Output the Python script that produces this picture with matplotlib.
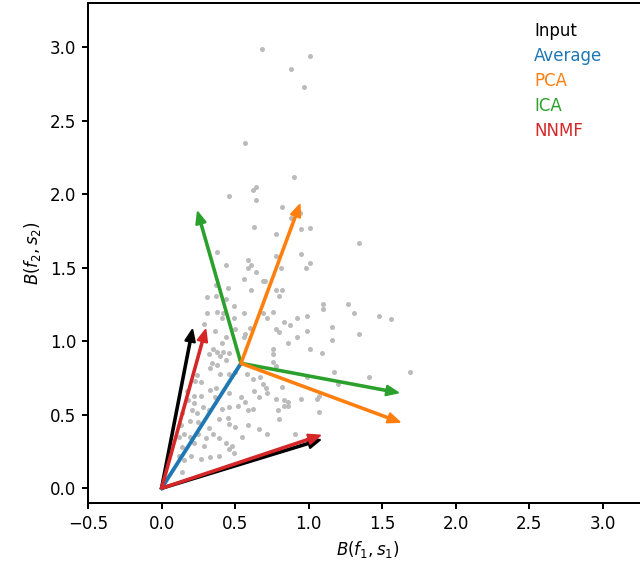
import numpy as np
from matplotlib import pyplot as plt

# scatter cloud (data units)
pts_x = [0.68, 1.01, 0.88, 0.97, 0.57, 0.90, 0.64, 0.62, 0.46, 0.64,
         0.82, 0.94, 0.88, 0.63, 0.78, 0.95, 1.01, 1.34, 0.38, 0.78,
         0.95, 1.01, 0.98, 0.44, 0.59, 0.59, 0.61, 0.64, 0.81, 0.56,
         0.70, 0.69, 0.37, 0.45, 0.61, 0.78, 0.82, 0.31, 0.37, 0.44,
         0.80, 0.49, 1.10, 1.10, 1.27, 1.31, 1.48, 1.56, 0.31, 0.38,
         0.42, 0.41, 0.49, 0.56, 0.69, 0.72, 0.76, 0.92, 0.99, 0.83,
         0.87, 0.29, 0.36, 0.50, 0.60, 0.57, 0.78, 0.80, 0.99, 1.16,
         0.92, 1.34, 1.16, 0.44, 0.56, 0.86, 0.41, 0.35, 1.01, 1.09,
         0.76, 0.76, 0.76, 0.38, 0.32, 0.42, 0.46, 0.40, 0.44, 0.34,
         0.38, 0.33, 0.78, 1.17, 1.41, 1.69, 0.99, 1.20, 0.24, 0.23,
         0.27, 0.40, 0.46, 0.50, 0.58, 0.62, 0.67, 0.69, 0.71, 0.72,
         0.63, 0.66, 0.82, 0.37, 0.33, 0.17, 0.22, 0.27, 0.36, 0.46,
         0.54, 0.57, 0.78, 0.83, 0.86, 0.95, 1.07, 1.06, 1.07, 0.86,
         0.83, 0.79, 0.59, 0.62, 0.52, 0.46, 0.41, 0.32, 0.24, 0.21,
         0.13, 0.19, 0.25, 0.32, 0.39, 0.45, 0.46, 0.50, 0.59, 0.66,
         0.72, 0.80, 0.91, 0.55, 0.39, 0.44, 0.29, 0.22, 0.19, 0.12,
         0.14, 0.20, 0.27, 0.33, 0.39, 0.46, 0.49, 0.48, 0.15, 0.14,
         0.12, 0.15, 0.25, 0.35, 0.30, 0.18, 0.14, 0.22, 0.28]
pts_y = [2.99, 2.94, 2.85, 2.73, 2.35, 2.12, 2.05, 2.03, 1.99, 1.96,
         1.91, 1.87, 1.84, 1.78, 1.73, 1.76, 1.77, 1.67, 1.61, 1.58,
         1.59, 1.53, 1.50, 1.52, 1.55, 1.50, 1.52, 1.47, 1.50, 1.42,
         1.41, 1.41, 1.38, 1.36, 1.35, 1.35, 1.35, 1.30, 1.31, 1.29,
         1.31, 1.24, 1.25, 1.22, 1.25, 1.19, 1.17, 1.15, 1.19, 1.20,
         1.19, 1.16, 1.16, 1.19, 1.19, 1.16, 1.20, 1.16, 1.17, 1.13,
         1.11, 1.12, 1.07, 1.08, 1.09, 1.05, 1.08, 1.06, 1.07, 1.10,
         1.03, 1.05, 1.01, 1.03, 1.03, 0.99, 0.99, 0.95, 0.95, 0.92,
         0.95, 0.91, 0.86, 0.93, 0.91, 0.93, 0.92, 0.90, 0.87, 0.85,
         0.84, 0.82, 0.83, 0.79, 0.76, 0.79, 0.76, 0.71, 0.77, 0.73,
         0.72, 0.78, 0.78, 0.79, 0.78, 0.74, 0.76, 0.71, 0.68, 0.65,
         0.66, 0.62, 0.69, 0.68, 0.67, 0.66, 0.63, 0.63, 0.62, 0.65,
         0.62, 0.59, 0.61, 0.60, 0.59, 0.61, 0.63, 0.61, 0.52, 0.56,
         0.56, 0.53, 0.53, 0.54, 0.56, 0.55, 0.54, 0.53, 0.51, 0.53,
         0.43, 0.46, 0.45, 0.41, 0.47, 0.48, 0.44, 0.42, 0.43, 0.40,
         0.37, 0.47, 0.37, 0.35, 0.34, 0.31, 0.29, 0.31, 0.35, 0.35,
         0.28, 0.22, 0.20, 0.21, 0.22, 0.27, 0.24, 0.29, 0.19, 0.11,
         0.22, 0.37, 0.37, 0.37, 0.34, 0.60, 0.51, 0.58, 0.55]

origin = (0.0, 0.0)
mean = (0.54, 0.85)

# basis vectors (tips)
input_tips = [(0.21, 1.08), (1.08, 0.33)]
nnmf_tips = [(0.30, 1.08), (1.08, 0.36)]
pca_tips = [(0.94, 1.93), (1.62, 0.45)]
ica_tips = [(0.245, 1.88), (1.61, 0.65)]

labels = ["Input", "Average", "PCA", "ICA", "NNMF"]
colors = ["black", "tab:blue", "tab:orange", "tab:green", "tab:red"]

plt.rcParams["axes.linewidth"] = 1.2
plt.rcParams["xtick.major.width"] = 1.2
plt.rcParams["ytick.major.width"] = 1.2

fig = plt.figure(figsize=(640 / 120, 573 / 120), dpi=120)
ax = fig.add_axes([88 / 640, 70 / 573, 559 / 640, 500 / 573])

ax.scatter(pts_x, pts_y, s=9, color="#bbbbbb", linewidths=0, zorder=1)

arrow_kw = dict(width=0.013, head_width=0.07, head_length=0.085,
                length_includes_head=True, linewidth=1.0, zorder=3)


def draw(start, tip, color):
    ax.arrow(start[0], start[1], tip[0] - start[0], tip[1] - start[1],
             color=color, **arrow_kw)


for t in input_tips:
    draw(origin, t, "black")
ax.plot([origin[0], mean[0]], [origin[1], mean[1]], color="tab:blue", lw=2.3, zorder=3)
for t in ica_tips:
    draw(mean, t, "tab:green")
for t in pca_tips:
    draw(mean, t, "tab:orange")
for t in nnmf_tips:
    draw(origin, t, "tab:red")

for i, (lab, c) in enumerate(zip(labels, colors)):
    ax.text(0.798, 0.944 - 0.05 * i, lab, color=c, transform=ax.transAxes,
            va="center", ha="left")

ax.set_xlim(-0.5, 3.3)
ax.set_ylim(-0.1, 3.3)
ax.set_xticks(np.arange(-0.5, 3.01, 0.5))
ax.set_yticks(np.arange(0.0, 3.01, 0.5))
ax.set_xlabel("$B(f_1, s_1)$")
ax.set_ylabel("$B(f_2, s_2)$")

plt.savefig("out.png", dpi=120)
